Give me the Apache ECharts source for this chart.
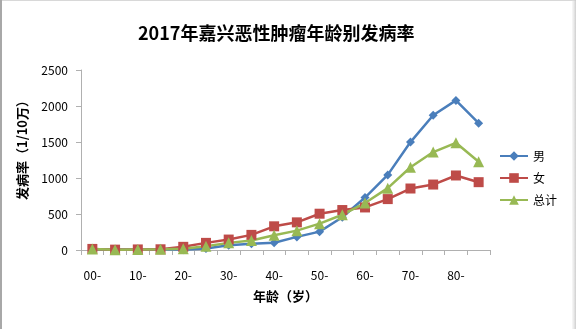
<!DOCTYPE html>
<html>
<head>
<meta charset="utf-8">
<script src="https://cdn.jsdelivr.net/npm/echarts@6/dist/echarts.min.js"></script>
<style>
  html, body { margin: 0; padding: 0; background: #fff; }
  #chart { width: 576px; height: 329px; }
</style>
</head>
<body>
<div id="chart"></div>
<script>
// Age groups (5-year bands)
const ageGroups = ['00-', '05-', '10-', '15-', '20-', '25-', '30-', '35-', '40-',
  '45-', '50-', '55-', '60-', '65-', '70-', '75-', '80-', '85-'];

// Incidence per 100,000
const male   = [12, 6, 7, 12, 5, 20, 66, 86, 100, 182, 255, 455, 729, 1043, 1499, 1872, 2078, 1761];
const female = [15, 5, 8, 10, 44, 99, 145, 210, 329, 384, 504, 555, 591, 707, 854, 909, 1035, 942];
const total  = [13, 5, 8, 11, 16, 53, 99, 131, 205, 269, 366, 490, 652, 859, 1149, 1360, 1489, 1225];

const yTicks = { min: 0, max: 2500, interval: 500 };

const cjk = '"Noto Sans CJK SC", "Noto Sans", sans-serif';
const chart = echarts.init(document.getElementById('chart'), null, { renderer: 'canvas' });

function lineSeries(name, data, color, symbol, size) {
  return {
    name, type: 'line', data,
    symbol, symbolSize: size,
    showSymbol: true,
    lineStyle: { color, width: 2.5 },
    itemStyle: { color },
    emphasis: { disabled: true },
    animation: false
  };
}

chart.setOption({
  animation: false,
  backgroundColor: '#ffffff',
  title: {
    text: '2017年嘉兴恶性肿瘤年龄别发病率',
    left: 133, top: 19,
    textStyle: { fontFamily: cjk, fontSize: 18, fontWeight: 'bold', color: '#000' }
  },
  grid: { left: 81, right: 86, top: 70, bottom: 79 },
  legend: {
    orient: 'vertical', right: 14, top: 145,
    itemGap: 10, itemWidth: 28, itemHeight: 12,
    textStyle: { fontFamily: cjk, fontSize: 12, color: '#000' },
    data: ['男', '女', '总计']
  },
  xAxis: {
    type: 'category', data: ageGroups, boundaryGap: true,
    name: '年龄（岁）', nameLocation: 'middle', nameGap: 40,
    nameTextStyle: { fontFamily: cjk, fontSize: 13, fontWeight: 'bold', color: '#000' },
    axisLine: { lineStyle: { color: '#b0b0b0', width: 1 } },
    axisTick: { show: true, interval: 0, length: 5, lineStyle: { color: '#b0b0b0' } },
    axisLabel: {
      interval: 1, margin: 19, fontFamily: cjk, fontSize: 12, color: '#000'
    },
    splitLine: { show: false }
  },
  yAxis: {
    type: 'value', min: yTicks.min, max: yTicks.max, interval: yTicks.interval,
    axisLine: { show: true, lineStyle: { color: '#b0b0b0', width: 1 } },
    axisTick: { show: true, length: 5, inside: false, lineStyle: { color: '#b0b0b0' } },
    axisLabel: { margin: 13, fontFamily: cjk, fontSize: 12, color: '#000', formatter: v => String(v) },
    splitLine: { show: false }
  },
  graphic: [
    { type: 'rect', shape: { x: 0, y: 0, width: 576, height: 1 }, style: { fill: '#d8d8d8' }, silent: true },
    { type: 'rect', shape: { x: 0, y: 0, width: 2, height: 329 }, style: { fill: '#a8a8a8' }, silent: true },
    { type: 'rect', shape: { x: 572, y: 0, width: 4, height: 329 },
      style: { fill: new echarts.graphic.LinearGradient(0, 0, 1, 0, [
        { offset: 0, color: 'rgba(230,230,230,0.3)' }, { offset: 1, color: 'rgba(200,200,200,0.9)' }]) },
      silent: true },
    // y-axis title
    { type: 'text', x: 22, y: 147, rotation: Math.PI / 2, silent: true,
      style: { text: '发病率（1/10万）', fontFamily: cjk, fontSize: 13, fontWeight: 'bold',
        fill: '#000', align: 'center', verticalAlign: 'middle' } }
  ],
  series: [
    lineSeries('男', male, '#4a7ebb', 'diamond', 9),
    lineSeries('女', female, '#be4b48', 'rect', 10),
    lineSeries('总计', total, '#98b954', 'triangle', 11)
  ]
});
</script>
</body>
</html>
